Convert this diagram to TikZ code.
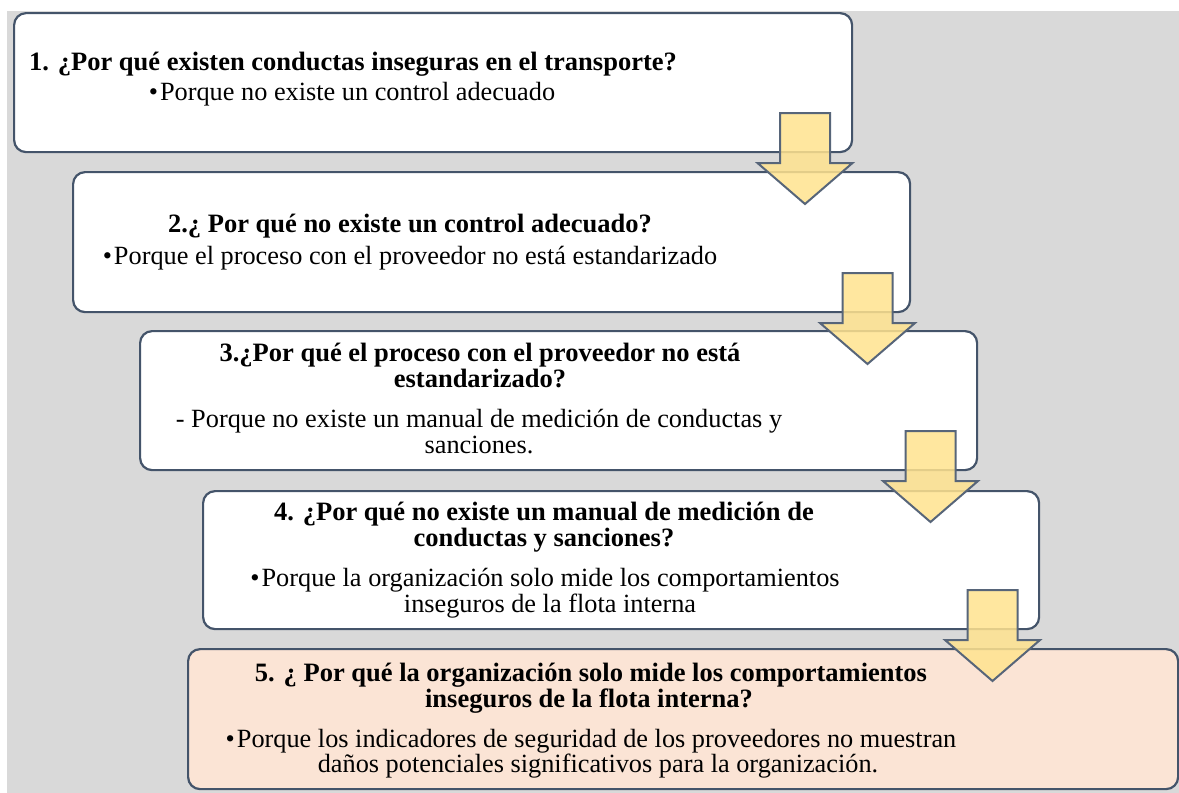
\documentclass[tikz,border=0pt]{standalone}
\usepackage{fontspec}
\setmainfont{Liberation Serif}
\definecolor{edgec}{HTML}{44546A}
\definecolor{bggray}{HTML}{D9D9D9}
\definecolor{peach}{HTML}{FBE4D5}
\definecolor{arrowy}{HTML}{FFE38F}
\newcommand\myBlockArrow[2]{%
  \draw[arr] (#1-25,#2-38) -- (#1+25,#2-38) -- (#1+25,#2+12) -- (#1+47.5,#2+12)
    -- (#1,#2+53) -- (#1-47.5,#2+12) -- (#1-25,#2+12) -- cycle;}
\begin{document}
\begin{tikzpicture}[x=1pt,y=-1pt,
  box/.style={draw=edgec, line width=2.2pt, rounded corners=12pt, fill=white, anchor=north west, inner sep=0pt},
  arr/.style={draw=edgec!90, line width=2pt, fill=arrowy, fill opacity=0.85, line join=miter},
  ttl/.style={anchor=base, inner sep=0pt, font=\fontsize{26.5}{28}\selectfont\bfseries},
  bdy/.style={anchor=base, inner sep=0pt, font=\fontsize{26.3}{28}\selectfont}]
\useasboundingbox (0,0) rectangle (1179,793);
\fill[white] (0,0) rectangle (1179,793);
\fill[bggray] (7,11) rectangle (1179,793);
% boxes
\node[box, minimum width=838, minimum height=139] (b1) at (13,12) {};
\node[box, minimum width=837, minimum height=140] (b2) at (72,171) {};
\node[box, minimum width=837, minimum height=139] (b3) at (139,330) {};
\node[box, minimum width=836, minimum height=138] (b4) at (202,490) {};
\node[box, fill=peach, minimum width=990, minimum height=140] (b5) at (187,648) {};
% texts
\node[ttl] (t1) at (353,70) {1. ¿Por qué existen conductas inseguras en el transporte?};
\node[bdy] (p1) at (352,100) {•\kern2pt Porque no existe un control adecuado};
\node[ttl] (t2) at (410,232) {2.¿ Por qué no existe un control adecuado?};
\node[bdy] (p2) at (410,264) {•\kern2pt Porque el proceso con el proveedor no está estandarizado};
\node[ttl] (t3a) at (480,361) {3.¿Por qué el proceso con el proveedor no está};
\node[ttl] (t3b) at (480,387) {estandarizado?};
\node[bdy] (p3a) at (479,427) {- Porque no existe un manual de medición de conductas y};
\node[bdy] (p3b) at (479,453) {sanciones.};
\node[ttl] (t4a) at (544,520) {4. ¿Por qué no existe un manual de medición de};
\node[ttl] (t4b) at (544,546) {conductas y sanciones?};
\node[bdy] (p4a) at (545,586.5) {•\kern2pt Porque la organización solo mide los comportamientos};
\node[bdy] (p4b) at (550,612.5) {inseguros de la flota interna};
\node[ttl] (t5a) at (591,681) {5. ¿ Por qué la organización solo mide los comportamientos};
\node[ttl] (t5b) at (589,707) {inseguros de la flota interna?};
\node[bdy] (p5a) at (591,747) {•\kern2pt Porque los indicadores de seguridad de los proveedores no muestran};
\node[bdy] (p5b) at (598,772.5) {daños potenciales significativos para la organización.};
% arrows
\myBlockArrow{805}{151}
\myBlockArrow{867.5}{311}
\myBlockArrow{930.5}{469}
\myBlockArrow{992.5}{628}
\end{tikzpicture}
\end{document}
